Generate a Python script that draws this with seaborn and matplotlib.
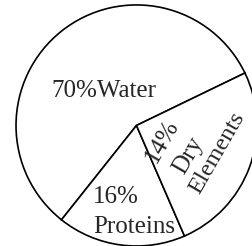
import seaborn as sns
import matplotlib.pyplot as plt

# composition shown on the chart
labels = ["Water", "Proteins", "Dry\nElements"]
percents = [70, 16, 14]
# the drawing is not to scale: wedge sweeps (degrees) as measured on the picture
wedge_angles = [205.7, 62.0, 92.3]
start_angle = 25.8

sns.set_theme(style="white")
plt.rcParams["font.family"] = ["Liberation Serif", "DejaVu Serif"]

fig = plt.figure(figsize=(2.52, 2.46), dpi=100)
ax = fig.add_axes([0, 0, 1, 1])

wedges, _ = ax.pie(wedge_angles, startangle=start_angle, counterclock=True,
                   colors=["white"] * 3,
                   wedgeprops=dict(edgecolor="black", linewidth=1.2))
ax.set_aspect("auto")
ax.set_xlim(-1.133, 0.959)
ax.set_ylim(-1.0, 1.041)
ax.axis("off")

fs = 18
ax.text(-0.274, 0.2365, f"{percents[0]}%{labels[0]}", fontsize=fs,
        ha="center", va="baseline")
ax.text(-0.361, -0.643, f"{percents[1]}%", fontsize=fs, ha="left", va="baseline")
ax.text(-0.361, -0.892, labels[1], fontsize=fs, ha="left", va="baseline")

rot = 60
dry_word, elem_word = labels[2].split("\n")
ax.text(0.215, -0.13, f"{percents[2]}%", fontsize=fs, rotation=rot,
        rotation_mode="anchor", ha="center", va="center")
ax.text(0.43, -0.25, dry_word, fontsize=fs, rotation=rot,
        rotation_mode="anchor", ha="center", va="center")
ax.text(0.672, -0.225, elem_word, fontsize=fs - 0.5, rotation=rot,
        rotation_mode="anchor", ha="center", va="center")

fig.savefig("out.png", dpi=100)
